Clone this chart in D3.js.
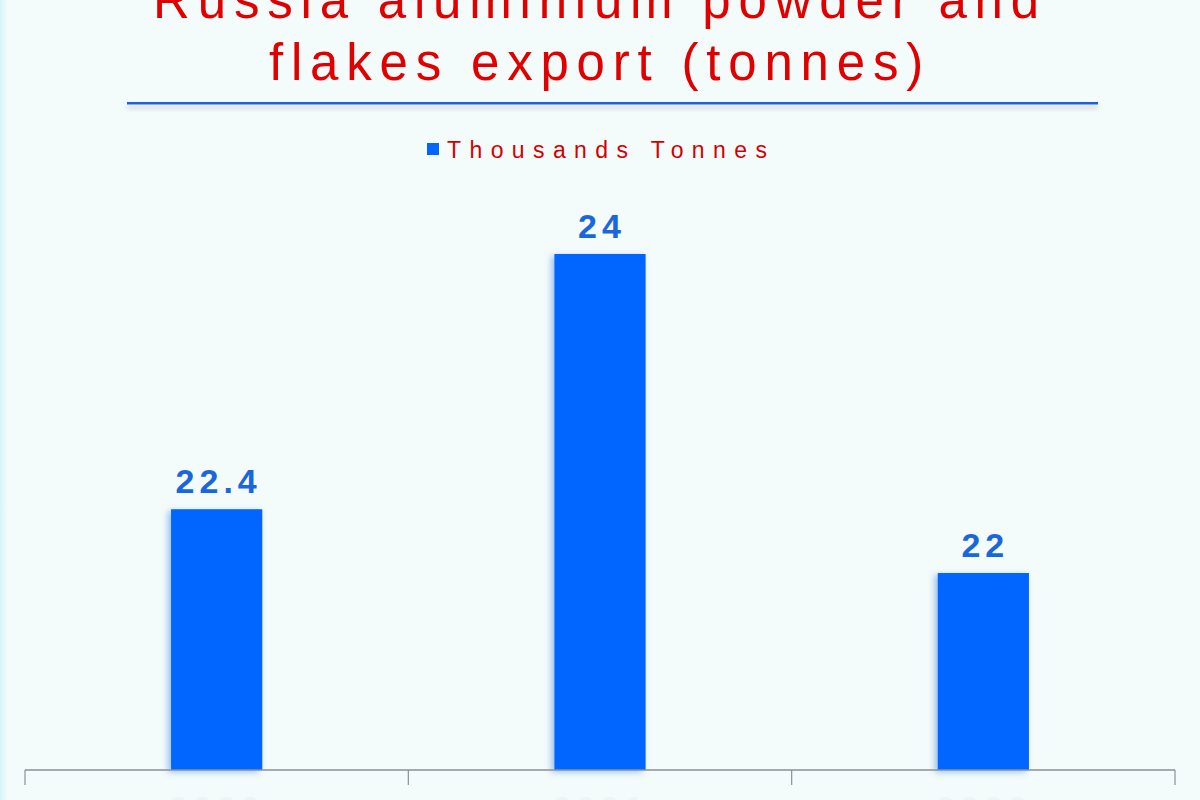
<!DOCTYPE html>
<html>
<head>
<meta charset="utf-8">
<script src="https://cdn.jsdelivr.net/npm/d3@7"></script>
<style>
  body { margin: 0; background: #f4fbfb; }
  svg { display: block; }
  .font_a { font-family: "Liberation Sans", Arial, sans-serif; }
</style>
</head>
<body>
<div id="BarDiv"></div>
<script>
// data
var years = ["2020", "2021", "2022"];
var exportValues = [22.4, 24, 22];
var valueLabels = ["22.4", "24", "22"];
var seriesName = "Thousands Tonnes";
var titleLines = ["Russia aluminium powder and", "flakes export (tonnes)"];

function getConfig(){
    let width = 1200, height = 800;
    let margin = {top: 254, right: 25, bottom: 30, left: 25};
    let plot = {};
    plot.w = width - margin.left - margin.right;
    plot.h = height - margin.top - margin.bottom;
    plot.bar_color = "#0066ff";
    plot.label_color = "#1a66dd";
    plot.title_color = "#e00000";
    return {width, height, margin, plot};
}

function showData(){
    let config = getConfig();
    let data = years.map((y, i) => ({year: y, value: exportValues[i], label: valueLabels[i]}));

    let svg = d3.select("#BarDiv").append("svg")
        .attr("width", config.width)
        .attr("height", config.height)
        .style("background-color", "#f4fbfb");

    let defs = svg.append("defs");
    let edge = defs.append("linearGradient").attr("id", "edge");
    edge.append("stop").attr("offset", "0").attr("stop-color", "#d6f4f8");
    edge.append("stop").attr("offset", "1").attr("stop-color", "#f4fbfb");
    let glow = defs.append("filter").attr("id", "glow")
        .attr("x", "-20%").attr("y", "-10%").attr("width", "140%").attr("height", "120%");
    glow.append("feDropShadow").attr("dx", -3).attr("dy", 2).attr("stdDeviation", 3)
        .attr("flood-color", "#4d8fe0").attr("flood-opacity", 0.55);
    let lineShadow = defs.append("filter").attr("id", "lshadow")
        .attr("x", "-5%").attr("y", "-200%").attr("width", "110%").attr("height", "600%");
    lineShadow.append("feDropShadow").attr("dx", 0).attr("dy", 4).attr("stdDeviation", 2)
        .attr("flood-color", "#9aa4a8").attr("flood-opacity", 0.5);

    svg.append("rect").attr("x", 0).attr("y", 0).attr("width", 8).attr("height", config.height)
        .attr("fill", "url(#edge)");

    // title (top line runs off the picture, as in the source)
    svg.selectAll(".title").data(titleLines).join("text")
        .attr("class", "title font_a")
        .attr("x", 600)
        .attr("y", (d, i) => 18 + i * 62)
        .attr("text-anchor", "middle")
        .attr("font-size", 51)
        .attr("letter-spacing", 7.8)
        .attr("fill", config.plot.title_color)
        .text(d => d);

    // rule under the title (a rect, so the shadow filter has a real box)
    svg.append("rect")
        .attr("x", 127).attr("y", 102)
        .attr("width", 971).attr("height", 2.5)
        .attr("fill", "#1f62d4")
        .attr("filter", "url(#lshadow)");

    // legend
    let leg = svg.append("g").attr("transform", "translate(427,143)");
    leg.append("rect").attr("width", 12).attr("height", 12).attr("fill", config.plot.bar_color);
    leg.append("text").attr("class", "font_a")
        .attr("x", 20).attr("y", 15)
        .attr("font-size", 23)
        .attr("letter-spacing", 8.4)
        .attr("fill", "#d40000")
        .text(seriesName);

    let xScale = d3.scaleBand()
        .domain(years)
        .range([0, config.plot.w])
        .paddingInner(0.762)
        .paddingOuter(0.381);

    let yScale = d3.scaleLinear()
        .domain([20.765, 24])
        .range([config.plot.h, 0]);

    let g = svg.append("g")
        .attr("transform", `translate(${config.margin.left},${config.margin.top})`);

    g.selectAll("rect.bar").data(data).join("rect")
        .attr("class", "bar")
        .attr("x", d => xScale(d.year))
        .attr("y", d => yScale(d.value))
        .attr("width", xScale.bandwidth())
        .attr("height", d => yScale(20.765) - yScale(d.value))
        .attr("fill", config.plot.bar_color)
        .attr("filter", "url(#glow)");

    g.selectAll("text.val").data(data).join("text")
        .attr("class", "val font_a")
        .attr("x", d => xScale(d.year) + xScale.bandwidth() / 2 + 2)
        .attr("y", d => yScale(d.value) - 16)
        .attr("text-anchor", "middle")
        .attr("font-size", 34)
        .attr("font-weight", "bold")
        .attr("letter-spacing", 5)
        .attr("fill", config.plot.label_color)
        .text(d => d.label);

    // x axis; year labels sit mostly below the picture edge
    let xAx = g.append("g")
        .attr("transform", `translate(0,${config.plot.h})`)
        .call(d3.axisBottom(xScale).tickSize(0).tickPadding(26));
    xAx.select(".domain").attr("stroke", "#8a9094").attr("stroke-width", 1.5)
        .attr("d", `M0,0H${config.plot.w}`);
    xAx.selectAll(".tick text")
        .attr("class", "font_a")
        .attr("font-size", 34)
        .attr("font-weight", "bold")
        .attr("letter-spacing", 5)
        .attr("fill", "#eaf6f8");
    g.selectAll("line.sep").data(d3.range(years.length + 1)).join("line")
        .attr("class", "sep")
        .attr("x1", i => i * config.plot.w / years.length)
        .attr("x2", i => i * config.plot.w / years.length)
        .attr("y1", config.plot.h)
        .attr("y2", config.plot.h + 15)
        .attr("stroke", "#8a9094")
        .attr("stroke-width", 1.2);
}

window.addEventListener("load", showData);
</script>
</body>
</html>
